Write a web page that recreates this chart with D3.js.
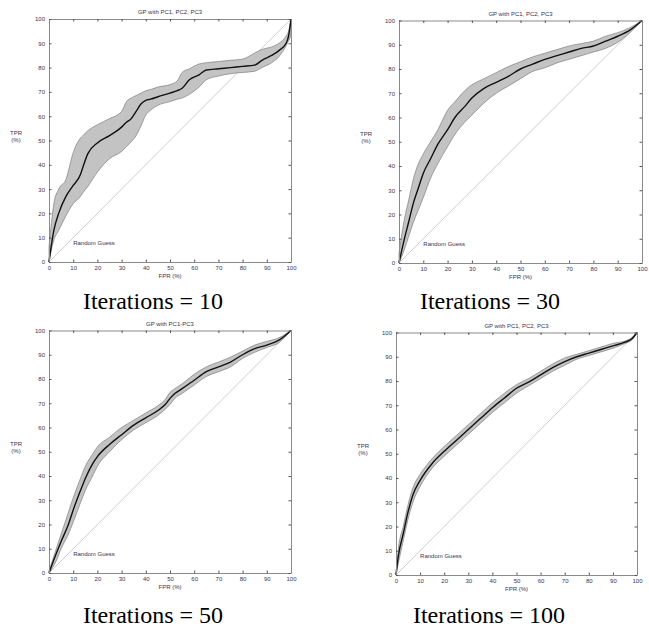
<!DOCTYPE html>
<meta charset="utf-8">
<script src="https://d3js.org/d3.v7.min.js"></script>
<style>
  body { margin: 0; background: #fff; }
  svg text { font-family: "Liberation Sans", Arial, sans-serif; }
  .tick text { fill: #3a3152; font-size: 6px; }
  .caption { font-family: "Liberation Serif", "Times New Roman", serif !important; font-size: 24px; fill: #000; }
</style>
<body>
<div id="chart"></div>
<script>
// ---- data (FPR %, TPR %) ----
var titles = ["GP with PC1, PC2, PC3", "GP with PC1, PC2, PC3", "GP with PC1-PC3", "GP with PC1, PC2, PC3"];
var captions = ["Iterations = 10", "Iterations = 30", "Iterations = 50", "Iterations = 100"];
var ticks = [0, 10, 20, 30, 40, 50, 60, 70, 80, 90, 100];

var fpr10  = [0, 2, 4, 7, 10, 13, 14, 16, 20, 25, 30, 32, 34, 36, 38, 40, 42, 45, 50, 53, 55, 58, 62, 65, 70, 75, 80, 85, 88, 92, 95, 98, 99, 100];
var mean10 = [0, 13, 20, 27, 31.5, 36, 39, 44.5, 49, 52, 55.5, 57.5, 59, 62, 65, 66.5, 67, 68, 69.5, 70.5, 71.5, 75, 77, 79, 79.5, 80, 80.5, 81, 83, 85, 87, 90, 93, 100];
var hi10   = [6, 24, 30, 34, 45, 51, 52, 54, 56.5, 59, 62, 66, 67.5, 68.5, 69.5, 70.5, 71, 72, 73, 74.5, 78, 79.5, 81.5, 82, 82.5, 83, 83.5, 86, 87.5, 88.5, 90, 93, 95, 100];
var lo10   = [0, 9, 13, 19, 24, 27, 28.5, 31, 37, 42.5, 45.5, 47.5, 49.5, 52, 56, 60.5, 62.5, 64.5, 66, 67, 67.5, 69, 72, 75, 76.5, 77.5, 78, 78.5, 80, 82, 84.5, 89, 91, 93];

var fpr30  = [0, 2, 4, 6, 8, 10, 13, 16, 20, 23, 27, 30, 35, 40, 45, 50, 55, 60, 65, 70, 75, 80, 85, 90, 95, 100];
var mean30 = [0, 9, 17, 25, 31, 37, 43, 49, 55, 60, 64.5, 68, 72, 74.5, 77, 80, 82, 84, 85.5, 87, 88.5, 89.5, 91.5, 93.5, 96, 100];
var hi30   = [4, 17, 26, 35, 41, 45, 50, 55, 63, 66.5, 71, 73.5, 76, 78.5, 81, 83, 85, 86.5, 88, 89.5, 90.5, 91.5, 93.5, 95, 97, 100];
var lo30   = [0, 5, 11, 17, 22, 27, 35, 41, 48, 53, 58, 61, 66, 70, 73, 76, 79, 80.5, 82.5, 84, 85.5, 87, 88.5, 91, 95, 100];

var fpr50  = [0, 3, 5, 8, 10, 13, 15, 18, 20, 25, 30, 35, 40, 45, 48, 50, 52, 55, 60, 65, 70, 75, 80, 85, 90, 95, 100];
var mean50 = [0, 8, 13, 20, 26, 34, 39, 45, 48, 53, 57, 61, 64, 67, 69.5, 72, 74, 76, 79.5, 83, 85, 87, 90, 92.5, 94, 96, 100];
var hi50   = [1, 10, 16, 25, 31, 39, 44, 49, 52, 56, 60, 63, 66, 69, 71.5, 74.5, 76, 78, 82, 85, 87, 89, 91.5, 94, 95.5, 97, 100];
var lo50   = [0, 5, 10, 16, 21, 29, 34, 40, 44, 50, 55, 59, 62, 65, 67.5, 69.5, 72, 74, 77.5, 81, 83, 85, 88.5, 91, 93, 95, 100];

var fpr100  = [0, 1, 3, 5, 7, 10, 15, 20, 25, 30, 35, 40, 45, 50, 55, 60, 65, 70, 75, 80, 85, 90, 95, 98, 100];
var mean100 = [0, 8, 17, 26, 33, 39, 46, 51, 55.5, 60, 64.5, 69, 73, 77, 79.5, 82.5, 85.5, 88, 90, 91.5, 93, 94.5, 96, 97.5, 100];
var hi100   = [0.5, 11, 20, 29, 36, 41.5, 48, 53, 57.5, 62, 66.5, 71, 75, 78.5, 81, 84, 87, 89.5, 91, 92.5, 94, 95.5, 96.5, 98, 100];
var lo100   = [0, 5, 14, 23, 30, 36.5, 44, 49, 53.5, 58, 62.5, 67, 71, 75, 78, 81, 84, 86.5, 89, 90.5, 92, 93.5, 95.5, 97, 100];

var series = [
  {x: fpr10, m: mean10, hi: hi10, lo: lo10},
  {x: fpr30, m: mean30, hi: hi30, lo: lo30},
  {x: fpr50, m: mean50, hi: hi50, lo: lo50},
  {x: fpr100, m: mean100, hi: hi100, lo: lo100}
];

// plot box of each panel in page pixels, plus caption anchor
var layout = [
  {l: 49, r: 291, t: 19, b: 262, capX: 153, capY: 309},
  {l: 399, r: 642, t: 20.5, b: 263, capX: 490, capY: 309},
  {l: 49, r: 291, t: 330.5, b: 573, capX: 153, capY: 623},
  {l: 396, r: 637, t: 332.5, b: 575, capX: 489, capY: 623}
];

var svg = d3.select("#chart").append("svg")
    .attr("width", 649)
    .attr("height", 627);

layout.forEach(function(L, i) {
  var S = series[i];
  var x = d3.scaleLinear().domain([0, 100]).range([L.l, L.r]);
  var y = d3.scaleLinear().domain([0, 100]).range([L.b, L.t]);
  var pts = S.x.map(function(d, k) { return {x: d, m: S.m[k], hi: S.hi[k], lo: S.lo[k]}; });
  var g = svg.append("g");

  // diagonal
  g.append("line")
      .attr("x1", x(0)).attr("y1", y(0))
      .attr("x2", x(100)).attr("y2", y(100))
      .attr("stroke", "#cfcfcf").attr("stroke-width", 1);

  // band
  g.append("path").datum(pts)
      .attr("fill", "#c3c3c3")
      .attr("stroke", "#6f6f6f").attr("stroke-width", 0.6)
      .attr("d", d3.area().curve(d3.curveMonotoneX)
          .x(function(d) { return x(d.x); })
          .y0(function(d) { return y(d.lo); })
          .y1(function(d) { return y(d.hi); }));

  // mean
  g.append("path").datum(pts)
      .attr("fill", "none")
      .attr("stroke", "#111").attr("stroke-width", 1.4)
      .attr("d", d3.line().curve(d3.curveMonotoneX)
          .x(function(d) { return x(d.x); })
          .y(function(d) { return y(d.m); }));

  g.append("text")
      .attr("x", x(10)).attr("y", y(7))
      .attr("font-size", 6).attr("fill", "#3a3152")
      .text("Random Guess");

  // axes, ticks inward on all four sides
  var fmt = d3.format("d");
  function style(a) {
    a.select(".domain").attr("stroke", "#8a8a8a");
    a.selectAll(".tick line").attr("stroke", "#555");
  }
  g.append("g").attr("transform", "translate(0," + L.b + ")")
      .call(d3.axisBottom(x).tickValues(ticks).tickFormat(fmt).tickSizeInner(-2.5).tickSizeOuter(0).tickPadding(4))
      .call(style);
  g.append("g").attr("transform", "translate(0," + L.t + ")")
      .call(d3.axisTop(x).tickValues(ticks).tickFormat("").tickSizeInner(-2.5).tickSizeOuter(0))
      .call(style);
  g.append("g").attr("transform", "translate(" + L.l + ",0)")
      .call(d3.axisLeft(y).tickValues(ticks).tickFormat(fmt).tickSizeInner(-2.5).tickSizeOuter(0).tickPadding(4))
      .call(style);
  g.append("g").attr("transform", "translate(" + L.r + ",0)")
      .call(d3.axisRight(y).tickValues(ticks).tickFormat("").tickSizeInner(-2.5).tickSizeOuter(0))
      .call(style);

  var cx = (L.l + L.r) / 2;
  g.append("text")
      .attr("x", cx).attr("y", L.t - 5)
      .attr("text-anchor", "middle").attr("font-size", 6).attr("fill", "#3a3152")
      .text(titles[i]);
  g.append("text")
      .attr("x", cx).attr("y", L.b + 16)
      .attr("text-anchor", "middle").attr("font-size", 6).attr("fill", "#3a3152")
      .text("FPR (%)");
  var ly = g.append("text")
      .attr("x", L.l - 33).attr("y", (L.t + L.b) / 2 - 6)
      .attr("text-anchor", "middle").attr("font-size", 6).attr("fill", "#3a3152");
  ly.append("tspan").attr("x", L.l - 33).text("TPR");
  ly.append("tspan").attr("x", L.l - 33).attr("dy", 7).text("(%)");

  svg.append("text").attr("class", "caption")
      .attr("x", L.capX).attr("y", L.capY)
      .attr("text-anchor", "middle")
      .text(captions[i]);
});
</script>
</body>
